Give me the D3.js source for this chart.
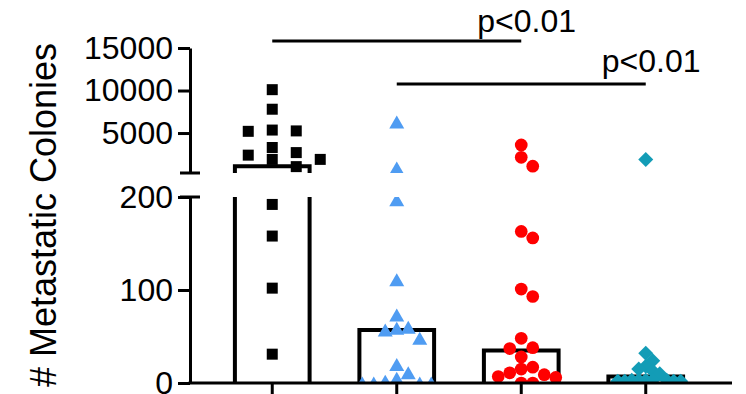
<!DOCTYPE html>
<html>
<head>
<meta charset="utf-8">
<script src="https://cdn.jsdelivr.net/npm/d3@7"></script>
<style>
  body { margin: 0; background: #fff; }
  svg { display: block; font-family: "Liberation Sans", Arial, sans-serif; }
  .axis path, .axis line { stroke: #000; stroke-width: 3; }
  .axis text { font-size: 32px; fill: #000; }
</style>
</head>
<body>
<div id="chart"></div>
<script>
// groups (no labels on the x axis)
const groups = ["g1", "g2", "g3", "g4"];
// bar heights per group
const barValues = [1100, 57, 35, 7];
// individual colonies per animal
const squares = [10100, 7800, 5350, 5250, 5200, 3300, 2700, 2400, 1900, 1900, 1050, 192, 158, 102, 31];
const triangles = [6300, 900, 197, 111, 73, 60, 59, 57, 48, 20, 11, 5, 2, 0, 0, 0, 0];
const circles = [3600, 2150, 1100, 163, 156, 101, 93, 48, 38, 37, 28, 17, 15, 11, 9, 7, 6, 0, 0];
const diamonds = [1900, 32, 24, 18, 15, 13, 10, 3, 3, 3, 3, 3, 2, 2, 2, 2];
const upperTicks = [5000, 10000, 15000];
const lowerTicks = [0, 100, 200];
const comparisons = [
  { from: "g1", to: "g3", label: "p<0.01" },
  { from: "g2", to: "g4", label: "p<0.01" }
];

const width = 746, height = 394;
const axisX = 190, axisRight = 732;
const lowerTop = 197, lowerBottom = 383;
const upperTop = 48, upperBottom = 173;
const breakValue = 300;

const svg = d3.select("#chart").append("svg")
  .attr("width", width)
  .attr("height", height);

const x = d3.scaleBand()
  .domain(groups)
  .range([210, 708])
  .paddingInner(0.4)
  .paddingOuter(0.2);

const yLower = d3.scaleLinear().domain([0, 200]).range([lowerBottom, lowerTop]);
const yUpper = d3.scaleLinear().domain([breakValue, 15000]).range([upperBottom, upperTop]);
const yPos = v => v > 250 ? yUpper(v) : yLower(v);

const defs = svg.append("defs");
defs.append("clipPath").attr("id", "clip-lower")
  .append("rect").attr("x", 0).attr("y", lowerTop).attr("width", width).attr("height", lowerBottom - lowerTop);
defs.append("clipPath").attr("id", "clip-upper")
  .append("rect").attr("x", 0).attr("y", upperTop - 10).attr("width", width).attr("height", upperBottom - upperTop + 10);

const lowerG = svg.append("g").attr("clip-path", "url(#clip-lower)");
const upperG = svg.append("g").attr("clip-path", "url(#clip-upper)");

// bars (open at the bottom, split over the axis break)
groups.forEach((g, i) => {
  const x0 = x(g), x1 = x(g) + x.bandwidth();
  const v = barValues[i];
  let dLow;
  if (v > 200) dLow = `M${x0},${lowerBottom}V${lowerTop - 2}M${x1},${lowerBottom}V${lowerTop - 2}`;
  else dLow = `M${x0},${lowerBottom}V${yLower(v)}H${x1}V${lowerBottom}`;
  lowerG.append("path").attr("d", dLow)
    .attr("fill", "none").attr("stroke", "#000").attr("stroke-width", 4);
  if (v > breakValue) {
    upperG.append("path").attr("d", `M${x0},${upperBottom + 2}V${yUpper(v)}H${x1}V${upperBottom + 2}`)
      .attr("fill", "none").attr("stroke", "#000").attr("stroke-width", 4);
  }
});

// triangle centred on its bounding box
const triangleUp = {
  draw(ctx, size) {
    const w = Math.sqrt(size), h = w * 0.866;
    ctx.moveTo(0, -h / 2);
    ctx.lineTo(w / 2, h / 2);
    ctx.lineTo(-w / 2, h / 2);
    ctx.closePath();
  }
};

const series = [
  { values: squares, type: d3.symbolSquare, size: 121, color: "#000000", rotate: 0, step: 12, cw: 22, ch: 11.5 },
  { values: triangles, type: triangleUp, size: 225, color: "#4f9cf2", rotate: 0, step: 11.5, cw: 11.5, ch: 13 },
  { values: circles, type: d3.symbolCircle, size: 127, color: "#ff0000", rotate: 0, step: 11.5, cw: 11.5, ch: 12 },
  { values: diamonds, type: d3.symbolSquare, size: 112, color: "#139cb6", rotate: 45, step: 7, cw: 7, ch: 9 }
];

// simple beeswarm so close values spread sideways
function swarm(values, cx, s) {
  const pts = values.map(v => ({ v, y: yPos(v) })).sort((a, b) => a.y - b.y);
  const placed = [];
  pts.forEach(p => {
    for (let k = 0; k < 60; k++) {
      const off = k === 0 ? 0 : (k % 2 ? 1 : -1) * Math.ceil(k / 2) * s.step;
      const px = cx + off;
      const hit = placed.some(q => Math.abs(q.x - px) < s.cw - 0.01 && Math.abs(q.y - p.y) < s.ch);
      if (!hit) { p.x = px; break; }
    }
    placed.push(p);
  });
  return placed;
}

series.forEach((s, i) => {
  const cx = x(groups[i]) + x.bandwidth() / 2;
  const pts = swarm(s.values, cx, s);
  const sym = d3.symbol().type(s.type).size(s.size);
  pts.forEach(p => {
    const target = p.v > 250 ? upperG : lowerG;
    target.append("path")
      .attr("d", sym())
      .attr("fill", s.color)
      .attr("transform", `translate(${p.x},${p.y}) rotate(${s.rotate})`);
  });
});

// y axes
svg.append("g")
  .attr("class", "axis")
  .attr("transform", `translate(${axisX},0)`)
  .call(d3.axisLeft(yUpper).tickValues(upperTicks).tickFormat(d3.format("d"))
    .tickSize(12).tickSizeOuter(0).tickPadding(5));

svg.append("g")
  .attr("class", "axis")
  .attr("transform", `translate(${axisX},0)`)
  .call(d3.axisLeft(yLower).tickValues(lowerTicks).tickFormat(d3.format("d"))
    .tickSize(12).tickSizeOuter(0).tickPadding(5));

svg.selectAll(".axis text").attr("font-family", null).attr("font-size", null);

// break marks
[upperBottom, lowerTop].forEach(yy => {
  svg.append("line")
    .attr("x1", axisX - 10).attr("x2", axisX + 10)
    .attr("y1", yy).attr("y2", yy)
    .attr("stroke", "#000").attr("stroke-width", 3);
});

// x axis
const xAxis = svg.append("g")
  .attr("class", "axis")
  .attr("transform", `translate(0,${lowerBottom})`)
  .call(d3.axisBottom(x).tickSize(11).tickFormat(""));
xAxis.select(".domain").remove();
svg.append("line")
  .attr("x1", axisX - 1.5).attr("x2", axisRight)
  .attr("y1", lowerBottom).attr("y2", lowerBottom)
  .attr("stroke", "#000").attr("stroke-width", 3);

// y label
svg.append("text")
  .attr("transform", `translate(56,215) rotate(-90)`)
  .attr("text-anchor", "middle")
  .attr("font-size", 36)
  .text("# Metastatic Colonies");

// significance lines
const sigY = [41, 84];
const sigTextY = [32, 72];
comparisons.forEach((c, i) => {
  const xa = x(c.from) + x.bandwidth() / 2;
  const xb = x(c.to) + x.bandwidth() / 2;
  svg.append("line")
    .attr("x1", xa).attr("x2", xb)
    .attr("y1", sigY[i]).attr("y2", sigY[i])
    .attr("stroke", "#000").attr("stroke-width", 3);
  svg.append("text")
    .attr("x", xb - 44)
    .attr("y", sigTextY[i])
    .attr("font-size", 32)
    .text(c.label);
});
</script>
</body>
</html>
